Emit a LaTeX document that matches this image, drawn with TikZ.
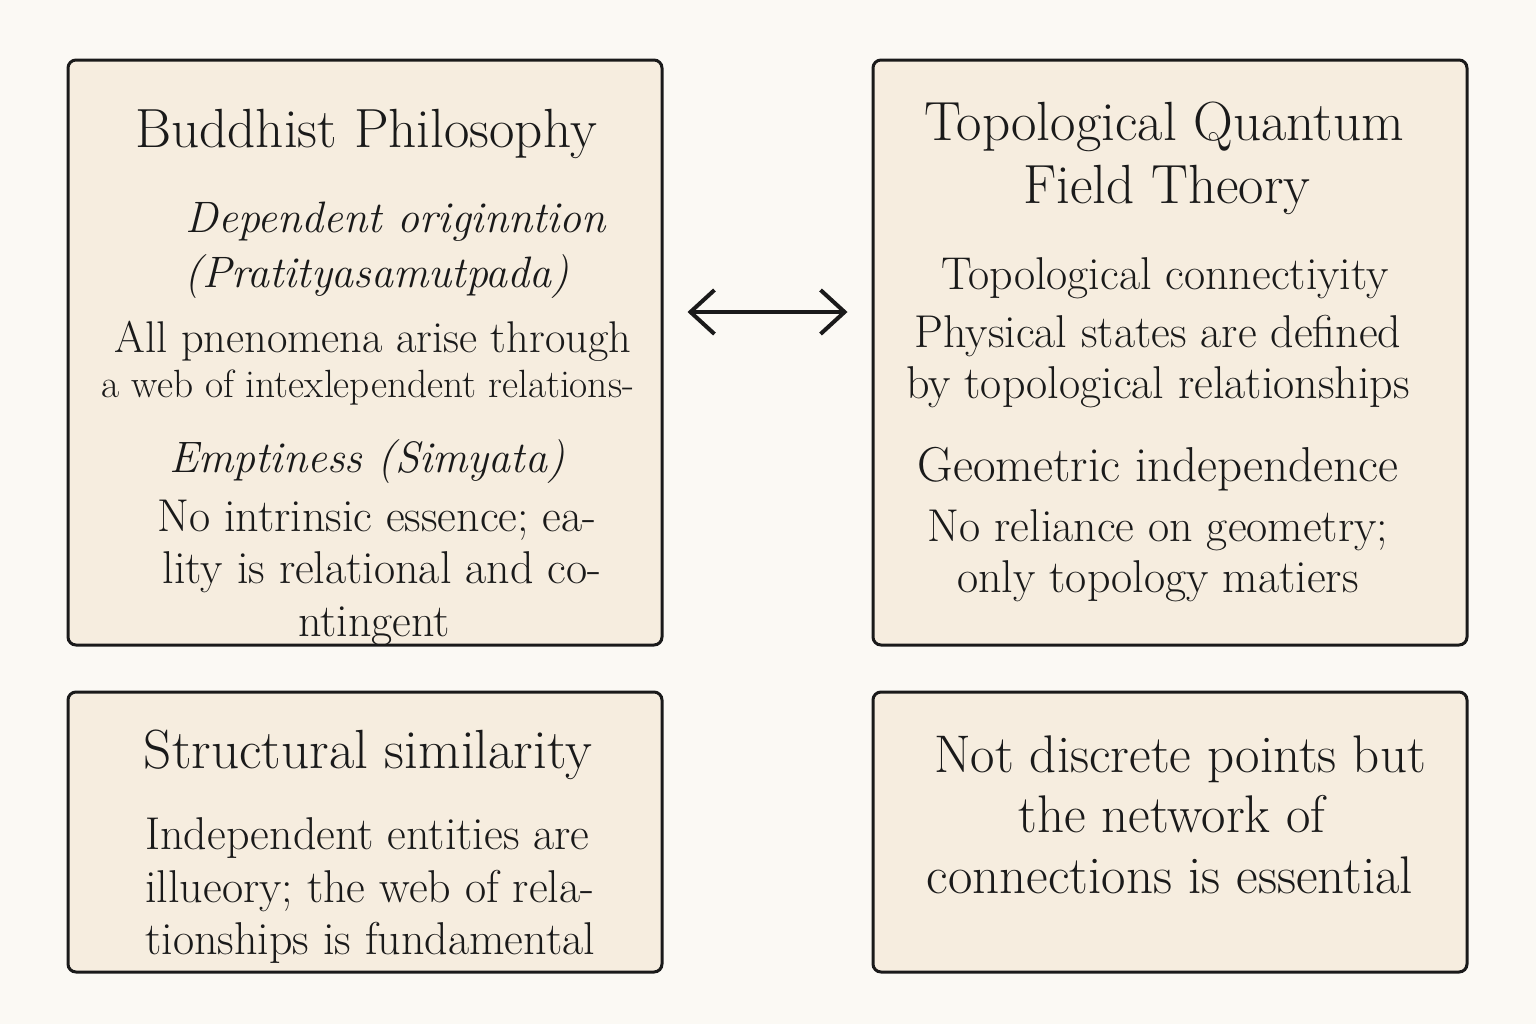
\documentclass[tikz,border=0pt]{standalone}
\usepackage{tikz}
\usepackage{xcolor}
\usetikzlibrary{arrows.meta}

\definecolor{paper}{HTML}{FBF9F4}
\definecolor{panel}{HTML}{F6EDDF}
\definecolor{ink}{HTML}{1A1A1A}

\begin{document}
\begin{tikzpicture}[x=0.5pt,y=-0.5pt]
        \tikzstyle{every node}+=[inner sep=0pt, text=ink]
        \tikzstyle{panelbox}=[draw=ink, line width=1.5pt, fill=panel, rounded corners=4pt, minimum width=297pt]
        \tikzstyle{head}=[anchor=base, font=\fontsize{27.6}{32}\selectfont]
        \tikzstyle{sub}=[anchor=base, font=\fontsize{22}{26}\selectfont\itshape]
        \tikzstyle{plain}=[anchor=base, font=\fontsize{23}{27}\selectfont]
        \tikzstyle{small}=[anchor=base, font=\fontsize{19.7}{23}\selectfont]
        \tikzstyle{big}=[anchor=base, font=\fontsize{26.5}{31}\selectfont]
        \tikzstyle{twoway}=[ink, line width=2pt, {Straight Barb[length=12pt,width=22pt]}-{Straight Barb[length=12pt,width=22pt]}, shorten <=12pt, shorten >=12pt]
        \fill [paper] (0,0) rectangle (1536,1024);
        \useasboundingbox (0,0) rectangle (1536,1024);
        % the four panels
        \node [panelbox, minimum height=292.5pt] (bud) at (365,352.5) {};
        \node [panelbox, minimum height=292.5pt] (tqft) at (1170,352.5) {};
        \node [panelbox, minimum height=140pt] (sim) at (365,832) {};
        \node [panelbox, minimum height=140pt] (net) at (1170,832) {};
        % Buddhist side
        \node [head] (budT) at (366,147) {Buddhist Philosophy};
        \node [sub] (depA) at (396,232) {Dependent originntion};
        \node [sub] (depB) at (377,287) {(Pratityasamutpada)};
        \node [plain, font=\fontsize{22.2}{26}\selectfont] (depC) at (373,352) {All pnenomena arise through};
        \node [small] (depD) at (368,397) {a web of intexlependent relations-};
        \node [sub] (empA) at (367,472) {Emptiness (Simyata)};
        \node [plain] (empB) at (377,531) {No intrinsic essence; ea-};
        \node [plain] (empC) at (382,583) {lity is relational and co-};
        \node [plain] (empD) at (374,636) {ntingent};
        % TQFT side
        \node [head] (tqA) at (1164,140) {Topological Quantum};
        \node [head] (tqB) at (1167,203) {Field Theory};
        \node [plain] (conA) at (1165,289) {Topological connectiyity};
        \node [plain] (conB) at (1158,347) {Physical states are defined};
        \node [plain] (conC) at (1158,398) {by topological relationships};
        \node [plain, font=\fontsize{24.5}{29}\selectfont] (geoA) at (1158,481) {Geometric independence};
        \node [plain] (geoB) at (1158,541) {No reliance on geometry;};
        \node [plain] (geoC) at (1158,592) {only topology matiers};
        % bottom row
        \node [head] (simT) at (368,768) {Structural similarity};
        \node [plain, anchor=base west] (simA) at (145,849) {Independent entities are};
        \node [plain, anchor=base west] (simB) at (145,902) {illueory; the web of rela-};
        \node [plain, anchor=base west] (simC) at (145,954) {tionships is fundamental};
        \node [big] (netA) at (1180,772) {Not discrete points but};
        \node [big] (netB) at (1172,832) {the network of};
        \node [big] (netC) at (1170,893) {connections is essential};
        % link between the two sides
        \coordinate (mid) at (767,312);
        \draw [twoway] (bud.east |- mid) -- (tqft.west |- mid);
\end{tikzpicture}
\end{document}
